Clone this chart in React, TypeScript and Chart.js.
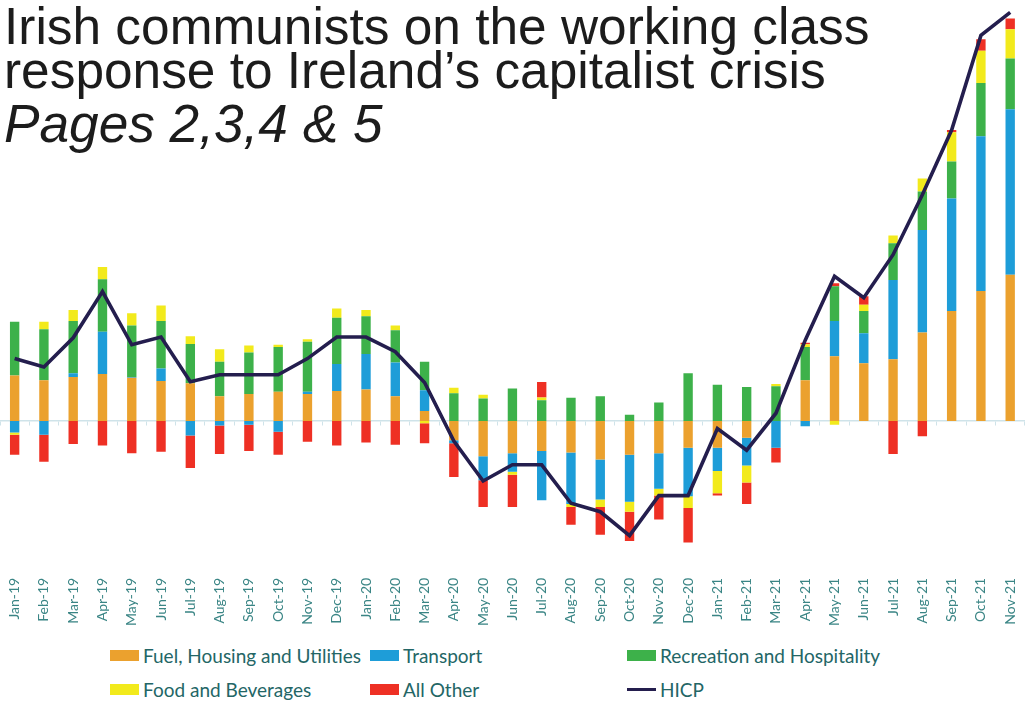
import React, { useEffect, useRef } from 'react';
import { Chart, registerables } from 'chart.js';

Chart.register(...registerables);

const categories = [
  'Jan-19', 'Feb-19', 'Mar-19', 'Apr-19', 'May-19', 'Jun-19', 'Jul-19', 'Aug-19', 'Sep-19', 'Oct-19', 'Nov-19', 'Dec-19',
  'Jan-20', 'Feb-20', 'Mar-20', 'Apr-20', 'May-20', 'Jun-20', 'Jul-20', 'Aug-20', 'Sep-20', 'Oct-20', 'Nov-20', 'Dec-20',
  'Jan-21', 'Feb-21', 'Mar-21', 'Apr-21', 'May-21', 'Jun-21', 'Jul-21', 'Aug-21', 'Sep-21', 'Oct-21', 'Nov-21',
];

const fuelHousing = [
  0.59, 0.53, 0.57, 0.61, 0.56, 0.52, 0.49, 0.32, 0.35, 0.38, 0.35, 0.39,
  0.41, 0.32, 0.13, -0.25, -0.46, -0.42, -0.39, -0.41, -0.5, -0.44, -0.42, -0.35,
  -0.35, -0.22, 0, 0.53, 0.84, 0.75, 0.8, 1.15, 1.43, 1.69, 1.9,
];

const transport = [
  -0.15, -0.18, 0.05, 0.55, 0.01, 0.16, -0.19, -0.06, -0.05, -0.14, 0.03, 0.35,
  0.46, 0.44, 0.27, -0.04, -0.31, -0.24, -0.64, -0.67, -0.52, -0.61, -0.46, -0.63,
  -0.3, -0.36, -0.35, -0.07, 0.46, 0.39, 1.03, 1.33, 1.46, 2.01, 2.15,
];

const recreation = [
  0.7, 0.66, 0.68, 0.68, 0.67, 0.62, 0.51, 0.45, 0.54, 0.58, 0.65, 0.6,
  0.49, 0.42, 0.37, 0.36, 0.29, 0.42, 0.27, 0.3, 0.32, 0.08, 0.24, 0.62,
  0.47, 0.44, 0.45, 0.43, 0.45, 0.29, 0.48, 0.5, 0.48, 0.69, 0.66,
];

const foodBeverages = [
  -0.03, 0.1, 0.14, 0.16, 0.16, 0.2, 0.1, 0.16, 0.09, 0.03, 0.03, 0.12,
  0.08, 0.06, -0.03, 0.07, 0.05, -0.04, 0.035, -0.04, -0.1, -0.13, -0.09, -0.15,
  -0.29, -0.22, 0.03, 0.035, -0.05, 0.08, 0.1, 0.17, 0.38, 0.42, 0.38,
];

const allOther = [
  -0.26, -0.35, -0.3, -0.32, -0.42, -0.4, -0.42, -0.37, -0.34, -0.3, -0.27, -0.32,
  -0.28, -0.31, -0.26, -0.44, -0.35, -0.42, 0.2, -0.23, -0.36, -0.38, -0.31, -0.45,
  -0.03, -0.28, -0.19, 0.02, 0.04, 0.11, -0.43, -0.2, 0.03, 0.15, 0.14,
];

const hicp = [
  0.81, 0.7, 1.08, 1.68, 0.99, 1.09, 0.51, 0.6, 0.6, 0.6, 0.81, 1.09,
  1.09, 0.9, 0.5, -0.26, -0.78, -0.57, -0.57, -1.07, -1.18, -1.49, -0.97, -0.97,
  -0.1, -0.38, 0.1, 1.05, 1.88, 1.6, 2.16, 2.94, 3.78, 5.01, 5.31,
];

const seriesNames = [
  'Fuel, Housing and Utilities',
  'Transport',
  'Recreation and Hospitality',
  'Food and Beverages',
  'All Other',
  'HICP',
];

const seriesColors = ['#EBA12E', '#1E9DD8', '#3DB14A', '#F2EA1C', '#EE3024', '#241E4E'];

const titleLines = [
  'Irish communists on the working class',
  'response to Ireland\u2019s capitalist crisis',
];
const subtitle = 'Pages 2,3,4 & 5';

const yMin = -1.96;
const yMax = 5.47;

export default function App() {
  const canvasRef = useRef<HTMLCanvasElement | null>(null);

  useEffect(() => {
    if (!canvasRef.current) return;
    const barSeries = [fuelHousing, transport, recreation, foodBeverages, allOther];
    const barDatasets = barSeries.map((data, i) => ({
      type: 'bar' as const,
      label: seriesNames[i],
      data,
      backgroundColor: seriesColors[i],
      borderWidth: 0,
      order: 1,
      categoryPercentage: 1,
      barPercentage: 0.32,
    }));
    const chart = new Chart(canvasRef.current, {
      type: 'bar',
      data: {
        labels: categories,
        datasets: [
          ...barDatasets,
          {
            type: 'line' as const,
            label: seriesNames[5],
            data: hicp,
            borderColor: seriesColors[5],
            backgroundColor: seriesColors[5],
            borderWidth: 3.6,
            pointRadius: 0,
            tension: 0,
            order: 0,
          },
        ] as any,
      },
      options: {
        animation: false,
        responsive: false,
        layout: { padding: 0 },
        plugins: {
          legend: { display: false },
          tooltip: { enabled: false },
        },
        scales: {
          x: {
            stacked: true,
            grid: { display: false, drawTicks: false },
            border: { display: false },
            ticks: {
              minRotation: 90,
              maxRotation: 90,
              autoSkip: false,
              padding: 6,
              color: '#3A8585',
              font: { family: 'Lato', size: 14 },
            },
          },
          x0: {
            type: 'category',
            position: { y: 0 } as any,
            grid: {
              display: true,
              drawOnChartArea: false,
              drawTicks: true,
              tickLength: 4,
              color: '#CFE3E9',
              offset: true,
            },
            border: { display: true, color: '#CFE3E9', width: 1.5 },
            ticks: { display: false },
          },
          y: {
            stacked: true,
            display: false,
            min: yMin,
            max: yMax,
          },
        } as any,
      },
    });
    return () => chart.destroy();
  }, []);

  const legendCols = [110, 370, 627];
  const legendRows = [644, 678];
  const legendLayout = [
    [0, 1, 2],
    [3, 4, 5],
  ];

  return (
    <div style={{ position: 'fixed', left: 0, top: 0, width: 1033, height: 720, background: '#fff', overflow: 'hidden' }}>
      <canvas ref={canvasRef} width={1033} height={632} style={{ position: 'absolute', left: 0, top: 0 }} />
      <div style={{ position: 'absolute', left: 0, top: 0, pointerEvents: 'none', color: '#1c1c1c', fontFamily: '"Liberation Sans", Arial, sans-serif', fontSize: 51.4, lineHeight: '52px', whiteSpace: 'nowrap' }}>
        <div style={{ position: 'absolute', left: 4, top: 0 }}>{titleLines[0]}</div>
        <div style={{ position: 'absolute', left: 4, top: 44 }}>{titleLines[1]}</div>
        <div style={{ position: 'absolute', left: 4, top: 98, fontStyle: 'italic', fontSize: 53.2 }}>{subtitle}</div>
      </div>
      {legendLayout.map((rowIdx, r) =>
        rowIdx.map((si, c) => (
          <div
            key={si}
            style={{
              position: 'absolute',
              left: legendCols[c],
              top: legendRows[r],
              height: 22,
              display: 'flex',
              alignItems: 'center',
              fontFamily: 'Lato, "Open Sans", sans-serif',
              fontSize: 19,
              color: '#236666',
              whiteSpace: 'nowrap',
            }}
          >
            <span
              style={{
                display: 'inline-block',
                width: 29,
                height: si === 5 ? 3 : 11,
                background: seriesColors[si],
                marginRight: 4,
              }}
            />
            <span>{seriesNames[si]}</span>
          </div>
        ))
      )}
    </div>
  );
}
